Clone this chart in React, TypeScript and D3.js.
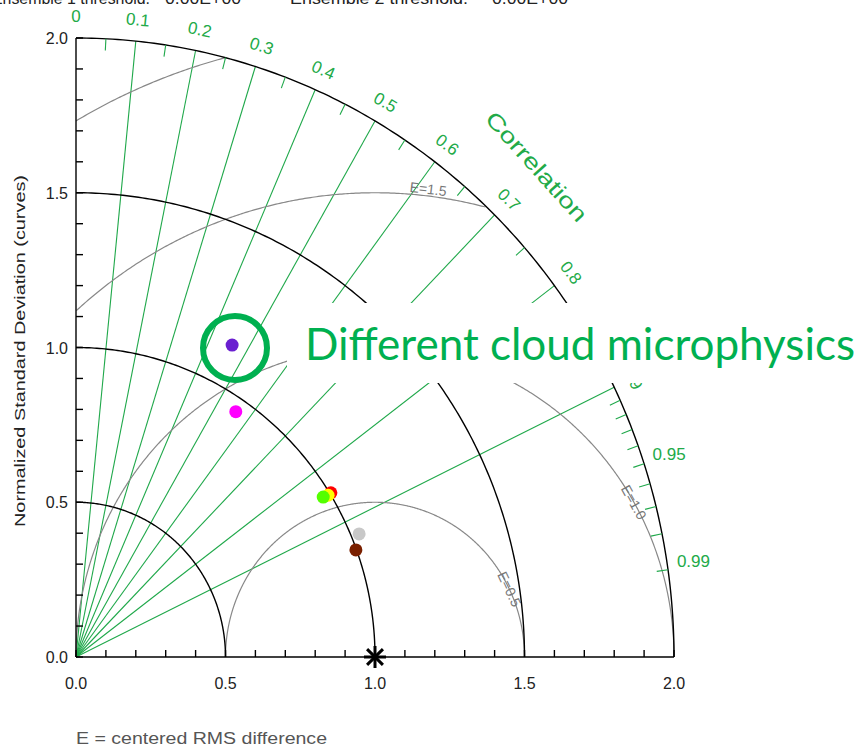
import React from "react";
import * as d3 from "d3";

// Standard deviation arcs (normalized) and axis labels
const STD_ARCS = [0.5, 1.0, 1.5, 2.0];
const STD_LABELS = ["0.0", "0.5", "1.0", "1.5", "2.0"];
const STD_LABEL_VALUES = [0, 0.5, 1.0, 1.5, 2.0];

// Correlation rays, labels and minor ticks
const CORR_LINES = [0.1, 0.2, 0.3, 0.4, 0.5, 0.6, 0.7, 0.8, 0.9];
const CORR_LABEL_VALUES = [0, 0.1, 0.2, 0.3, 0.4, 0.5, 0.6, 0.7, 0.8, 0.9, 0.95, 0.99];
const CORR_LABELS = ["0", "0.1", "0.2", "0.3", "0.4", "0.5", "0.6", "0.7", "0.8", "0.9", "0.95", "0.99"];
const CORR_MINOR = [
  0.05, 0.15, 0.25, 0.35, 0.45, 0.55, 0.65, 0.75, 0.85,
  0.91, 0.92, 0.93, 0.94, 0.95, 0.96, 0.97, 0.98, 0.99,
];

// Centered RMS difference contours
const RMS_LEVELS = [0.5, 1.0, 1.5, 2.0];
const RMS_LABELS = ["E=0.5", "E=1.0", "E=1.5", ""];
// angle (deg, around the reference point) where each contour label sits
const RMS_LABEL_ANGLE = [26, 30, 83.3, 0];

// Models: normalized standard deviation and correlation with the reference
const MODEL_NAMES = ["purple", "magenta", "red", "yellow", "green", "gray", "brown"];
const MODEL_STD = [1.135, 0.956, 1.004, 0.992, 0.975, 1.027, 0.998];
const MODEL_CORR = [0.46, 0.559, 0.849, 0.85, 0.848, 0.922, 0.938];
const MODEL_COLORS = ["#6a1fd0", "#ff00ff", "#ff0000", "#ffff00", "#55ff00", "#c8c8c8", "#7a2000"];

const REF_STD = 1.0;
const REF_CORR = 1.0;

const W = 860;
const H = 747;

const GREEN = "#1fa84a";
const GREEN_TEXT = "#22aa48";
const GRAY = "#888888";
const TEXT_FONT = "'Liberation Sans', Arial, sans-serif";

export default function App() {
  const x = d3.scaleLinear().domain([0, 2]).range([76, 674]);
  const y = d3.scaleLinear().domain([0, 2]).range([657, 38]);

  const polar = (s: number, c: number): [number, number] => {
    const cc = Math.max(-1, Math.min(1, c));
    return [x(s * cc), y(s * Math.sqrt(1 - cc * cc))];
  };

  const line = d3.line<[number, number]>().x((d) => d[0]).y((d) => d[1]);

  // quarter arc of constant std
  const stdArc = (s: number) =>
    line(d3.range(0, 90.01, 0.5).map((a) => {
      const t = (a * Math.PI) / 180;
      return [x(s * Math.cos(t)), y(s * Math.sin(t))] as [number, number];
    }));

  // RMS contour around the reference point, clipped to the quadrant of radius 2
  const rmsPts = (e: number) =>
    d3.range(0, 180.01, 0.25)
      .map((a) => {
        const t = (a * Math.PI) / 180;
        return [REF_STD + e * Math.cos(t), e * Math.sin(t)];
      })
      .filter(([px, py]) => px >= -1e-9 && px * px + py * py <= 4 + 1e-9)
      .map(([px, py]) => [x(px), y(py)] as [number, number]);

  const kx = x(1) - x(0);
  const ky = y(0) - y(1);

  const minorTicks = x.ticks(20);

  const rLabel = 2.07;

  return (
    <div style={{ position: "absolute", left: 0, top: 0 }}>
      <svg width={W} height={H} style={{ display: "block", background: "#fff" }}>
        {/* header */}
        <g fontFamily={TEXT_FONT} fontSize={16} fill="#222">
          <text x={-8} y={4} textLength={158} lengthAdjust="spacingAndGlyphs">Ensemble 1 threshold:</text>
          <text x={165} y={4} textLength={76} lengthAdjust="spacingAndGlyphs">0.00E+00</text>
          <text x={290} y={4} textLength={178} lengthAdjust="spacingAndGlyphs">Ensemble 2 threshold:</text>
          <text x={492} y={4} textLength={76} lengthAdjust="spacingAndGlyphs">0.00E+00</text>
        </g>

        {/* correlation rays */}
        <g stroke={GREEN} strokeWidth={1.1}>
          {CORR_LINES.map((c) => {
            const [x2, y2] = polar(2, c);
            return <line key={c} x1={x(0)} y1={y(0)} x2={x2} y2={y2} />;
          })}
        </g>

        {/* RMS difference contours */}
        <g fill="none" stroke={GRAY} strokeWidth={1.2}>
          {RMS_LEVELS.map((e) => (
            <path key={e} d={line(rmsPts(e)) || ""} />
          ))}
        </g>
        <g fontFamily={TEXT_FONT} fontSize={14} fill="#777">
          {RMS_LEVELS.map((e, i) => {
            if (!RMS_LABELS[i]) return null;
            const t = (RMS_LABEL_ANGLE[i] * Math.PI) / 180;
            const px = x(REF_STD + e * Math.cos(t));
            const py = y(e * Math.sin(t));
            const rot = (Math.atan2(Math.cos(t) * ky, Math.sin(t) * kx) * 180) / Math.PI;
            const above = e === 1.5;
            return (
              <text
                key={e}
                transform={`translate(${px},${py}) rotate(${rot})`}
                textAnchor="middle"
                dy={above ? -2 : 5}
              >
                {RMS_LABELS[i]}
              </text>
            );
          })}
        </g>

        {/* standard deviation arcs */}
        <g fill="none" stroke="#000" strokeWidth={1.4}>
          {STD_ARCS.map((s) => (
            <path key={s} d={stdArc(s) || ""} />
          ))}
        </g>

        {/* correlation ticks on the outer arc */}
        <g stroke={GREEN} strokeWidth={1.1}>
          {CORR_MINOR.map((c) => {
            const [x1, y1] = polar(2, c);
            const [x2, y2] = polar(1.962, c);
            return <line key={c} x1={x1} y1={y1} x2={x2} y2={y2} />;
          })}
        </g>

        {/* correlation labels */}
        <g fontFamily={TEXT_FONT} fontSize={17} fill={GREEN_TEXT}>
          {CORR_LABEL_VALUES.map((c, i) => {
            if (c > 0.9) {
              const [px, py] = polar(2.03, c);
              return (
                <text key={c} x={px} y={py} dy={-1} textAnchor="start">
                  {CORR_LABELS[i]}
                </text>
              );
            }
            const [px, py] = polar(rLabel, c);
            const ang = (Math.acos(c) * 180) / Math.PI;
            const rot = 90 - ang;
            return (
              <text
                key={c}
                transform={`translate(${px},${py}) rotate(${rot})`}
                textAnchor="middle"
                dy={6}
              >
                {CORR_LABELS[i]}
              </text>
            );
          })}
          <text
            transform="translate(536,167) rotate(48)"
            textAnchor="middle"
            dy={7}
            fontSize={22}
            textLength={140}
            lengthAdjust="spacingAndGlyphs"
          >
            Correlation
          </text>
        </g>

        {/* axes */}
        <g stroke="#000" strokeWidth={1.4}>
          <line x1={x(0)} y1={y(0)} x2={x(0)} y2={y(2)} />
          <line x1={x(0)} y1={y(0)} x2={x(2)} y2={y(0)} />
          {minorTicks.map((v) => (
            <line key={"yt" + v} x1={x(0)} y1={y(v)} x2={x(0) + 7} y2={y(v)} />
          ))}
          {minorTicks.map((v) => (
            <line key={"xt" + v} x1={x(v)} y1={y(0)} x2={x(v)} y2={y(0) - 7} />
          ))}
        </g>
        <g fontFamily={TEXT_FONT} fontSize={16} fill="#222">
          {STD_LABEL_VALUES.map((v, i) => (
            <text key={"yl" + v} x={x(0) - 8} y={y(v)} dy={6} textAnchor="end">
              {STD_LABELS[i]}
            </text>
          ))}
          {STD_LABEL_VALUES.map((v, i) => (
            <text key={"xl" + v} x={x(v)} y={y(0) + 32} textAnchor="middle">
              {STD_LABELS[i]}
            </text>
          ))}
          <text
            transform={`translate(25,${351}) rotate(-90)`}
            textAnchor="middle"
            fontSize={15}
            textLength={352}
            lengthAdjust="spacingAndGlyphs"
          >
            Normalized Standard Deviation (curves)
          </text>
          <text x={76} y={744} fill="#555" textLength={251} lengthAdjust="spacingAndGlyphs">
            E = centered RMS difference
          </text>
        </g>

        {/* models */}
        <g>
          {MODEL_NAMES.map((n, i) => {
            const [px, py] = polar(MODEL_STD[i], MODEL_CORR[i]);
            return <circle key={n} cx={px} cy={py} r={6.5} fill={MODEL_COLORS[i]} />;
          })}
        </g>

        {/* reference point */}
        {(() => {
          const [px, py] = polar(REF_STD, REF_CORR);
          const a = 11;
          const d = a * 0.72;
          return (
            <g stroke="#000" strokeWidth={3}>
              <line x1={px} y1={py - a} x2={px} y2={py + a} />
              <line x1={px - a} y1={py} x2={px + a} y2={py} />
              <line x1={px - d} y1={py - d} x2={px + d} y2={py + d} />
              <line x1={px - d} y1={py + d} x2={px + d} y2={py - d} />
            </g>
          );
        })()}

        {/* annotation */}
        <rect x={287} y={303} width={573} height={80} fill="#fff" />
        <text
          x={305}
          y={360}
          fontFamily="Lato, 'Open Sans', sans-serif"
          fontSize={44}
          fill="#00b050"
          textLength={550}
          lengthAdjust="spacingAndGlyphs"
        >
          Different cloud microphysics
        </text>
        <circle cx={235} cy={348} r={32} fill="none" stroke="#00b050" strokeWidth={6} />
      </svg>
    </div>
  );
}
